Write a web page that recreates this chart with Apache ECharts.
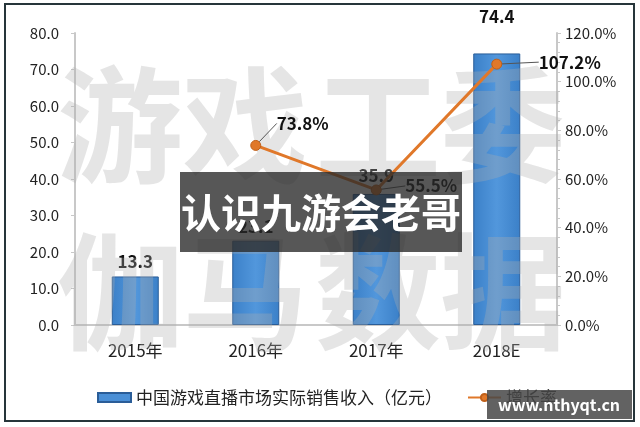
<!DOCTYPE html>
<html><head><meta charset="utf-8">
<script src="https://cdn.jsdelivr.net/npm/echarts@6/dist/echarts.min.js"></script>
<style>html,body{margin:0;padding:0;background:#fff}#c{width:640px;height:427px}</style>
</head><body><div id="c"></div>
<script>
const categories = ['2015年', '2016年', '2017年', '2018E'];
const revenue = [13.3, 23.1, 35.9, 74.4];
const growth = [null, 73.8, 55.5, 107.2];
const leftTicks = {min: 0, max: 80, interval: 10};
const rightTicks = {min: 0, max: 120, interval: 20};
const seriesNames = ['中国游戏直播市场实际销售收入（亿元）', '增长率'];

const barLabelDist = [6, 6, 10, 28];
const lineLabelShift = [[0,0],[47,-22],[55,-4],[73,-2]];
const FONT = '"Noto Sans CJK SC", "Noto Sans", sans-serif';

const chart = echarts.init(document.getElementById('c'));
const wmTop = ['游','戏','工','委'], wmBot = ['伽','马','数','据'];
const wmX = [120, 245, 378, 503];
const graphics = [];
const wmFill = 'rgba(175,175,175,0.32)';
wmTop.forEach((ch,i)=>graphics.push({type:'text', x:wmX[i], y:125, z:3, silent:true,
  style:{text:ch, font:'bold 126px '+FONT, fill:wmFill, align:'center', verticalAlign:'middle'}}));
wmBot.forEach((ch,i)=>graphics.push({type:'text', x:wmX[i], y:292, z:3, silent:true,
  style:{text:ch, font:'bold 126px '+FONT, fill:wmFill, align:'center', verticalAlign:'middle'}}));
graphics.push({type:'rect', shape:{x:5,y:4,width:629,height:417}, z:20, silent:true,
  style:{fill:'none', stroke:'#26353a', lineWidth:2}});
graphics.push({type:'rect', shape:{x:180,y:172,width:282,height:80}, z:30, silent:true,
  style:{fill:'rgba(40,40,40,0.78)'}});
graphics.push({type:'text', x:321, y:213, z:31, silent:true,
  style:{text:'认识九游会老哥', font:'bold 40px '+FONT, fill:'#fff', align:'center', verticalAlign:'middle'}});
graphics.push({type:'rect', shape:{x:487,y:390,width:145,height:29}, z:30, silent:true,
  style:{fill:'rgba(70,70,70,0.85)'}});
graphics.push({type:'text', x:559, y:405, z:31, silent:true,
  style:{text:'www.nthyqt.cn', font:'bold 16px '+FONT, fill:'#fff', align:'center', verticalAlign:'middle'}});

const barGrad = new echarts.graphic.LinearGradient(0,0,1,0,[
  {offset:0,color:'#3b80c8'},{offset:0.5,color:'#5297dc'},{offset:1,color:'#3b80c8'}]);

chart.setOption({
  animation:false,
  textStyle:{fontFamily:FONT},
  grid:{left:75, right:83, top:33, bottom:102},
  graphic:graphics,
  legend:{left:92, top:384, itemWidth:33, itemHeight:9, itemGap:25,
    textStyle:{fontSize:17, color:'#222', fontFamily:FONT},
    data:[{name:seriesNames[0], icon:'rect', itemStyle:{color:'#4a8fd6'}},
          {name:seriesNames[1]}]},
  xAxis:{type:'category', data:categories,
    axisLine:{lineStyle:{color:'#c8c8c8', width:2}}, axisTick:{show:false},
    axisLabel:{fontSize:17, color:'#222', margin:17, fontFamily:FONT}},
  yAxis:[
    {type:'value', min:leftTicks.min, max:leftTicks.max, interval:leftTicks.interval,
      axisLine:{show:true, lineStyle:{color:'#c8c8c8', width:2}},
      axisTick:{show:true, length:4, lineStyle:{color:'#c8c8c8'}},
      splitLine:{show:false},
      axisLabel:{fontSize:15, color:'#222', margin:16, formatter:v=>v.toFixed(1)}},
    {type:'value', min:rightTicks.min, max:rightTicks.max, interval:rightTicks.interval,
      axisLine:{show:true, lineStyle:{color:'#c8c8c8', width:2}},
      axisTick:{show:true, length:4, lineStyle:{color:'#c8c8c8'}},
      minorTick:{show:true, splitNumber:5, length:3, lineStyle:{color:'#c8c8c8'}},
      splitLine:{show:false},
      axisLabel:{fontSize:15, color:'#222', margin:8, formatter:v=>v.toFixed(1)+'%'}}
  ],
  series:[
    {name:seriesNames[0], type:'bar', barWidth:47, z:2,
      itemStyle:{color:barGrad, borderColor:'#2a5d98', borderWidth:1},
      data:revenue.map((v,i)=>({value:v, label:{distance:barLabelDist[i]}})),
      label:{show:true, position:'top', fontSize:17, fontWeight:'bold', color:'#111',
        formatter:p=>p.value.toFixed(1)}},
    {name:seriesNames[1], type:'line', yAxisIndex:1, z:4,
      symbol:'circle', symbolSize:10,
      lineStyle:{color:'#e0782a', width:3},
      itemStyle:{color:'#e0782a', borderColor:'#c0601a', borderWidth:1},
      data:growth,
      label:{show:true, position:'inside', fontSize:17, fontWeight:'bold', color:'#111',
        formatter:p=>p.value==null?'':p.value.toFixed(1)+'%'},
      labelLine:{show:true, lineStyle:{color:'#555', width:1}},
      labelLayout:function(params){
        const s = lineLabelShift[params.dataIndex];
        return {dx:s[0], dy:s[1]};
      }}
  ]
});
</script></body></html>
